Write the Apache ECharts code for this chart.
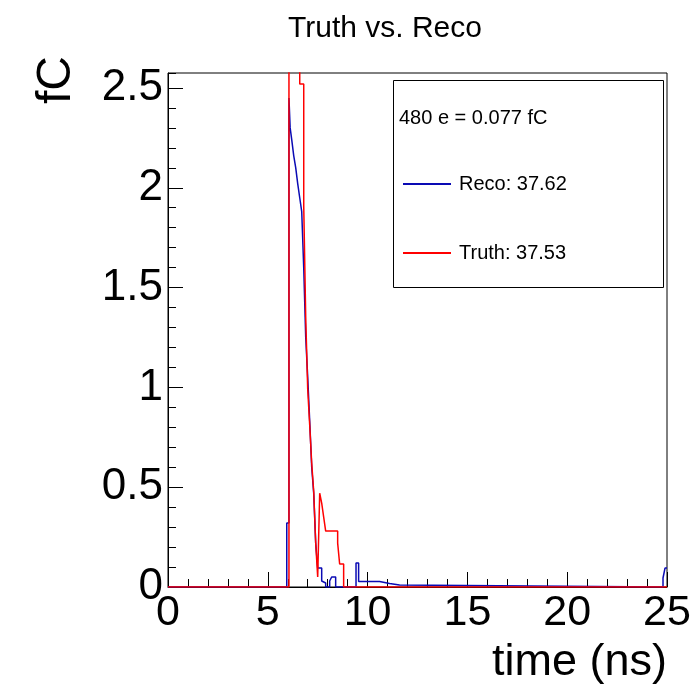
<!DOCTYPE html>
<html>
<head>
<meta charset="utf-8">
<script src="https://cdn.jsdelivr.net/npm/echarts@6/dist/echarts.min.js"></script>
<style>html,body{margin:0;padding:0;background:#fff;}#c{width:697px;height:684px;}</style>
</head>
<body>
<div id="c"></div>
<script>
// Step histogram: each time is the left edge where the value changes
const recoTimes  = [0, 5.95, 6.06, 6.12, 6.2, 6.3, 6.4, 6.5, 6.6, 6.7, 6.8, 6.9, 7.0, 7.1, 7.2, 7.3, 7.4, 7.5, 7.7, 7.8, 7.9, 8.1, 8.2, 8.4, 9.42, 9.55, 10.6, 11.1, 11.6, 24.8, 24.9, 25];
const recoValues = [0, 0.32, 2.45, 2.30, 2.24, 2.16, 2.10, 2.02, 1.95, 1.88, 1.60, 1.25, 1.05, 0.83, 0.60, 0.47, 0.22, 0.095, 0.03, 0.02, 0, 0.03, 0.05, 0, 0.12, 0.028, 0.018, 0.01, 0, 0.045, 0.095, 0.095];
const truthTimes  = [0, 6.06, 6.6, 6.8, 6.9, 7.0, 7.1, 7.2, 7.3, 7.4, 7.5, 7.6, 7.7, 7.8, 7.9, 8.5, 8.6, 8.8, 25];
const truthValues = [0, 3.2, 2.52, 1.91, 1.35, 0.99, 0.81, 0.62, 0.48, 0.22, 0.05, 0.47, 0.42, 0.35, 0.28, 0.22, 0.115, 0, 0];
const xTicks = [0, 5, 10, 15, 20, 25];
const yTicks = [0, 0.5, 1, 1.5, 2, 2.5];
const recoName = 'Reco: 37.62';
const truthName = 'Truth: 37.53';
const noteText = '480 e = 0.077 fC';

const FONT = 'Liberation Sans, Arial, Helvetica, sans-serif';
const toPairs = (t, v) => t.map((x, i) => [x, v[i]]);

const chart = echarts.init(document.getElementById('c'), null, {renderer: 'canvas'});
chart.setOption({
  backgroundColor: '#ffffff',
  animation: false,
  title: {
    text: 'Truth vs. Reco', left: 380, top: 9, textAlign: 'center',
    textStyle: {fontFamily: FONT, fontWeight: 'normal', fontSize: 30, color: '#000'}
  },
  grid: {left: 168, top: 73, width: 499, height: 514, show: true, borderColor: '#000', borderWidth: 1, backgroundColor: 'transparent'},
  xAxis: {
    type: 'value', min: xTicks[0], max: xTicks[xTicks.length - 1], interval: 5,
    axisLine: {show: true, lineStyle: {color: '#000', width: 1}},
    axisTick: {show: true, inside: true, length: 15, lineStyle: {color: '#000', width: 1}},
    minorTick: {show: true, splitNumber: 5, length: 8, lineStyle: {color: '#000', width: 1}},
    splitLine: {show: false},
    axisLabel: {fontFamily: FONT, fontSize: 43, color: '#000', margin: 5}
  },
  yAxis: [{
    type: 'value', min: 0, max: 2.575, interval: 0.5,
    axisLine: {show: true, lineStyle: {color: '#000', width: 1}},
    axisTick: {show: true, inside: true, length: 15, lineStyle: {color: '#000', width: 1}},
    splitLine: {show: false},
    axisLabel: {fontFamily: FONT, fontSize: 44, color: '#000', margin: 5, showMaxLabel: false,
      formatter: v => (yTicks.indexOf(Math.round(v * 1000) / 1000) >= 0 ? String(v) : '')}
  }, {
    type: 'value', min: 0, max: 2.575, interval: 0.1, position: 'left', offset: 0,
    axisLine: {show: false},
    axisTick: {show: true, inside: true, length: 8, lineStyle: {color: '#000', width: 1}},
    axisLabel: {show: false}, splitLine: {show: false}
  }],
  legend: [{
    data: [recoName], left: 403, top: 174, padding: 0, icon: 'rect', itemWidth: 48, itemHeight: 2,
    textStyle: {fontFamily: FONT, fontSize: 20, color: '#000', padding: [0, 0, 0, 3]}, selectedMode: false
  }, {
    data: [truthName], left: 403, top: 243, padding: 0, icon: 'rect', itemWidth: 48, itemHeight: 2,
    textStyle: {fontFamily: FONT, fontSize: 20, color: '#000', padding: [0, 0, 0, 3]}, selectedMode: false
  }],
  graphic: [
    {type: 'rect', z: 1, shape: {x: 393.5, y: 80.5, width: 270, height: 207}, style: {fill: '#fff', stroke: '#000', lineWidth: 1}},
    {type: 'text', z: 2, x: 399, y: 118, style: {text: noteText, font: '20px ' + FONT, fill: '#000', verticalAlign: 'middle'}},
    {type: 'text', z: 2, x: 57, y: 56, rotation: Math.PI / 2, style: {text: 'fC', font: '48px ' + FONT, fill: '#000', align: 'right', verticalAlign: 'middle'}},
    {type: 'text', z: 2, x: 667, y: 663, style: {text: 'time (ns)', font: '45px ' + FONT, fill: '#000', align: 'right', verticalAlign: 'middle'}}
  ],
  series: [{
    name: recoName, type: 'line', step: 'end', symbol: 'none', clip: true, z: 3,
    data: toPairs(recoTimes, recoValues),
    itemStyle: {color: '#0a0ab4'},
    lineStyle: {color: '#0a0ab4', width: 1.5}
  }, {
    name: truthName, type: 'line', step: 'end', symbol: 'none', clip: true, z: 4,
    data: toPairs(truthTimes, truthValues),
    itemStyle: {color: '#ff0000'},
    lineStyle: {color: '#ff0000', width: 1.5}
  }]
});
</script>
</body>
</html>
